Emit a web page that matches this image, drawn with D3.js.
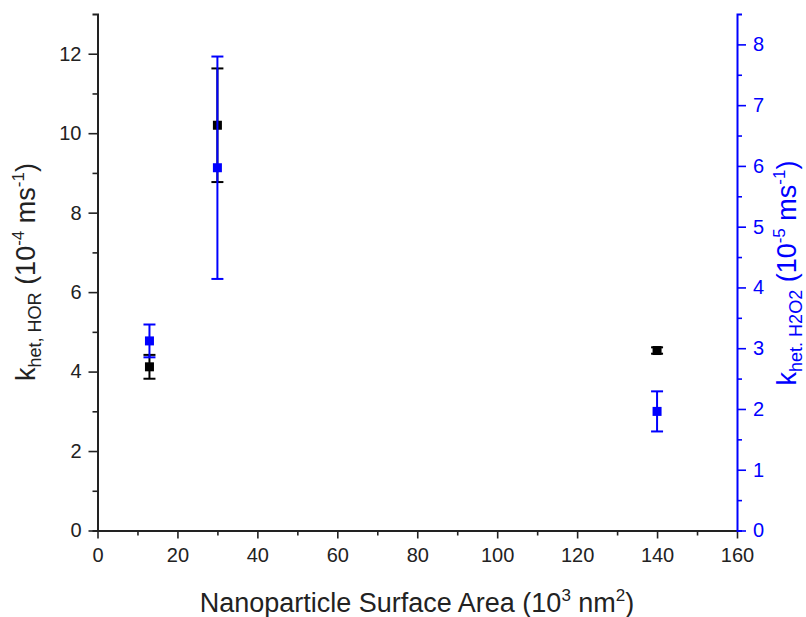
<!DOCTYPE html>
<html><head><meta charset="utf-8">
<script src="https://cdn.jsdelivr.net/npm/d3@7"></script>
<style>body{margin:0;background:#fff}svg text{font-family:"Liberation Sans",Arial,sans-serif}</style>
</head><body><svg id="c" width="806" height="617"></svg>
<script>
const xVals = [13, 30, 140];
const horVals = [4.12, 10.2, 4.53];
const horErr = [0.3, 1.43, 0.08];
const h2o2Vals = [3.12, 5.97, 1.96];
const h2o2Err = [0.27, 1.83, 0.33];
const xTicks = [0,20,40,60,80,100,120,140,160];
const yLeftTicks = [0,2,4,6,8,10,12];
const yRightTicks = [0,1,2,3,4,5,6,7,8];

const blue = "#0000ff";
const FONT = "'Liberation Sans', Arial, sans-serif";
const svg = d3.select("#c");
const L = 97.5, R = 737, T = 14, B = 530.5;
const x = d3.scaleLinear().domain([0,160]).range([L,R]);
const yL = d3.scaleLinear().domain([0,13]).range([B,T]);
const yR = d3.scaleLinear().domain([0,8.5]).range([B,T]);

function styleAxis(g, color){
  g.attr("font-family", FONT);
  g.selectAll("path").attr("stroke", color).attr("stroke-width", 2);
  g.selectAll("line").attr("stroke", color).attr("stroke-width", 1.6);
  g.selectAll("text").attr("fill", color).attr("font-size","20px").attr("font-family", FONT);
}

// X axis
const gx = svg.append("g").attr("transform",`translate(0,${B})`);
gx.call(d3.axisBottom(x).tickValues(xTicks).tickSize(8).tickSizeOuter(0).tickPadding(9));
styleAxis(gx,"#222");
const gxm = svg.append("g").attr("transform",`translate(0,${B})`);
gxm.call(d3.axisBottom(x).tickValues(d3.range(10,160,20)).tickSize(5).tickSizeOuter(0).tickFormat(""));
gxm.select("path").remove(); gxm.selectAll("line").attr("stroke","#222").attr("stroke-width",1.6);

// Left axis
const gl = svg.append("g").attr("transform",`translate(${L},0)`);
gl.call(d3.axisLeft(yL).tickValues(yLeftTicks).tickSize(9).tickSizeOuter(5).tickPadding(7));
styleAxis(gl,"#222");
const glm = svg.append("g").attr("transform",`translate(${L},0)`);
glm.call(d3.axisLeft(yL).tickValues(d3.range(1,13,2)).tickSize(5).tickFormat(""));
glm.select("path").remove(); glm.selectAll("line").attr("stroke","#222").attr("stroke-width",1.6);

// Right axis
const gr = svg.append("g").attr("transform",`translate(${R},0)`);
gr.call(d3.axisRight(yR).tickValues(yRightTicks).tickSize(9).tickSizeOuter(5).tickPadding(7));
styleAxis(gr,blue);
const grm = svg.append("g").attr("transform",`translate(${R},0)`);
grm.call(d3.axisRight(yR).tickValues(d3.range(0.5,8.5,1)).tickSize(5).tickFormat(""));
grm.select("path").remove(); grm.selectAll("line").attr("stroke",blue).attr("stroke-width",1.6);

// Error bars + markers
function series(vals, errs, yScale, color){
  const g = svg.append("g");
  const cap = 6;
  xVals.forEach((xv,i)=>{
    const cx = x(xv), lo = yScale(vals[i]-errs[i]), hi = yScale(vals[i]+errs[i]);
    g.append("line").attr("x1",cx).attr("x2",cx).attr("y1",lo).attr("y2",hi).attr("stroke",color).attr("stroke-width",2);
    [lo,hi].forEach(yy=>g.append("line").attr("x1",cx-cap).attr("x2",cx+cap).attr("y1",yy).attr("y2",yy).attr("stroke",color).attr("stroke-width",2));
    g.append("rect").attr("x",cx-4.5).attr("y",yScale(vals[i])-4.5).attr("width",9).attr("height",9).attr("fill",color);
  });
}
series(horVals, horErr, yL, "#000");
series(h2o2Vals, h2o2Err, yR, blue);

// Axis titles
function title(sel){ return sel.attr("font-family",FONT).attr("font-size","27px"); }
const xt = title(svg.append("text")).attr("x",417).attr("y",612).attr("text-anchor","middle").attr("fill","#222");
xt.append("tspan").text("Nanoparticle Surface Area (10");
xt.append("tspan").attr("dy",-11).attr("font-size","17px").text("3");
xt.append("tspan").attr("dy",11).text(" nm");
xt.append("tspan").attr("dy",-11).attr("font-size","17px").text("2");
xt.append("tspan").attr("dy",11).text(")");

const lt = title(svg.append("text")).attr("transform","translate(35,272) rotate(-90)").attr("text-anchor","middle").attr("fill","#222");
lt.append("tspan").text("k");
lt.append("tspan").attr("dy",6).attr("font-size","18px").text("het, HOR");
lt.append("tspan").attr("dy",-6).text(" (10");
lt.append("tspan").attr("dy",-11).attr("font-size","17px").text("-4");
lt.append("tspan").attr("dy",11).text(" ms");
lt.append("tspan").attr("dy",-11).attr("font-size","17px").text("-1");
lt.append("tspan").attr("dy",11).text(")");

const rt = title(svg.append("text")).attr("transform","translate(796,273) rotate(-90)").attr("text-anchor","middle").attr("fill",blue);
rt.append("tspan").text("k");
rt.append("tspan").attr("dy",6).attr("font-size","18px").text("het. H2O2");
rt.append("tspan").attr("dy",-6).text(" (10");
rt.append("tspan").attr("dy",-11).attr("font-size","17px").text("-5");
rt.append("tspan").attr("dy",11).text(" ms");
rt.append("tspan").attr("dy",-11).attr("font-size","17px").text("-1");
rt.append("tspan").attr("dy",11).text(")");
</script></body></html>
